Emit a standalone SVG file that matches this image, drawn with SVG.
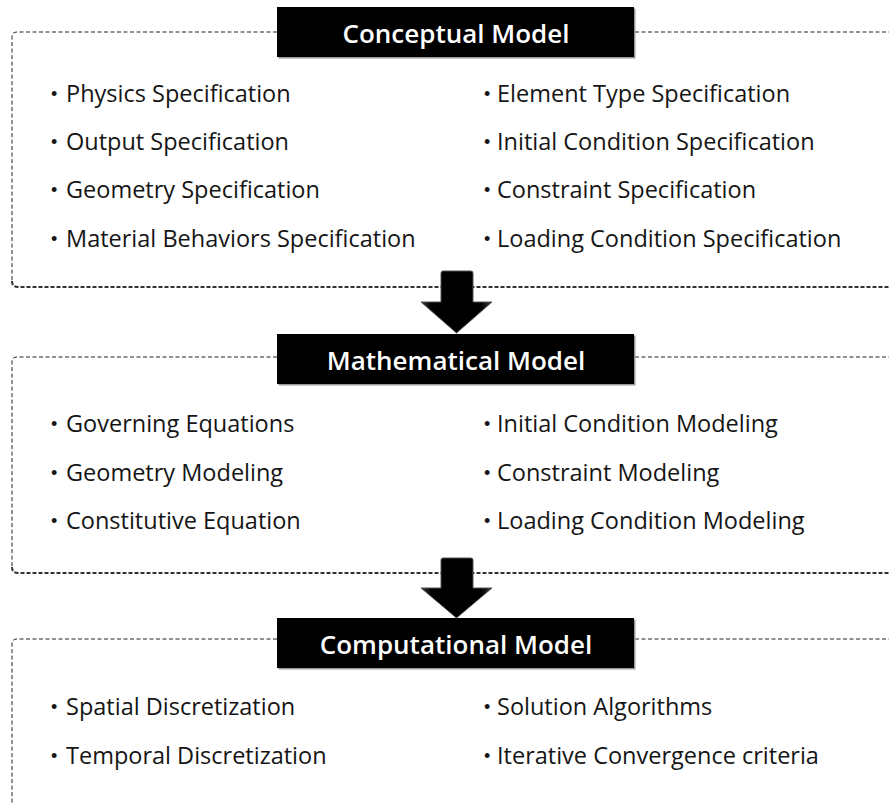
<svg xmlns="http://www.w3.org/2000/svg" width="889" height="805" viewBox="0 0 889 805">
  <defs>
    <style>
      .frame { fill: none; stroke: #222; stroke-width: 1; stroke-dasharray: 4 2.5; }
      .base { fill: none; stroke: #333; stroke-width: 2; stroke-dasharray: 4 2; }
      .title-bg { fill: #000; }
      .title-shadow { fill: #999; }
      .title { font-family: "Open Sans", "Noto Sans", "Liberation Sans", sans-serif; font-weight: 600; font-size: 26px; fill: #fff; text-anchor: middle; }
      .item { font-family: "Open Sans", "Noto Sans", "Liberation Sans", sans-serif; font-size: 23.5px; fill: #151515; }
      .dot { font-family: "Liberation Sans", sans-serif; font-size: 18px; fill: #151515; }
      .arrow { fill: url(#arrowShade); stroke: #555; stroke-width: 1; }
    </style>
    <linearGradient id="arrowShade" x1="0" y1="0" x2="1" y2="0">
      <stop offset="0" stop-color="#3a3a3a"/>
      <stop offset="0.15" stop-color="#000"/>
      <stop offset="0.85" stop-color="#000"/>
      <stop offset="1" stop-color="#3a3a3a"/>
    </linearGradient>
  </defs>

  <!-- Conceptual Model -->
  <g id="conceptual">
    <path class="frame" d="M277,32 H17 Q12,32 12,37 V281"/>
    <path class="frame" d="M635,32 H889"/>
    <path class="base" d="M12,281 Q12,287 18,287 H889"/>
    <rect class="title-shadow" x="278.5" y="8.5" width="357" height="50"/>
    <rect class="title-bg" x="277" y="7" width="357" height="50"/>
    <text class="title" x="456" y="43">Conceptual Model</text>
    <text class="dot" x="51" y="100">•</text><text class="item" x="66" y="102">Physics Specification</text>
    <text class="dot" x="51" y="148">•</text><text class="item" x="66" y="150">Output Specification</text>
    <text class="dot" x="51" y="196">•</text><text class="item" x="66" y="198">Geometry Specification</text>
    <text class="dot" x="51" y="245">•</text><text class="item" x="66" y="247">Material Behaviors Specification</text>
    <text class="dot" x="484" y="100">•</text><text class="item" x="497" y="102">Element Type Specification</text>
    <text class="dot" x="484" y="148">•</text><text class="item" x="497" y="150">Initial Condition Specification</text>
    <text class="dot" x="484" y="196">•</text><text class="item" x="497" y="198">Constraint Specification</text>
    <text class="dot" x="484" y="245">•</text><text class="item" x="497" y="247">Loading Condition Specification</text>
  </g>

  <!-- Mathematical Model -->
  <g id="mathematical">
    <path class="frame" d="M277,357 H17 Q12,357 12,362 V567"/>
    <path class="frame" d="M635,357 H889"/>
    <path class="base" d="M12,567 Q12,573 18,573 H889"/>
    <rect class="title-shadow" x="278.5" y="335.5" width="357" height="50"/>
    <rect class="title-bg" x="277" y="334" width="357" height="50"/>
    <text class="title" x="456" y="370">Mathematical Model</text>
    <text class="dot" x="51" y="430">•</text><text class="item" x="66" y="432">Governing Equations</text>
    <text class="dot" x="51" y="479">•</text><text class="item" x="66" y="481">Geometry Modeling</text>
    <text class="dot" x="51" y="527">•</text><text class="item" x="66" y="529">Constitutive Equation</text>
    <text class="dot" x="484" y="430">•</text><text class="item" x="497" y="432">Initial Condition Modeling</text>
    <text class="dot" x="484" y="479">•</text><text class="item" x="497" y="481">Constraint Modeling</text>
    <text class="dot" x="484" y="527">•</text><text class="item" x="497" y="529">Loading Condition Modeling</text>
  </g>

  <!-- Computational Model -->
  <g id="computational">
    <path class="frame" d="M277,639 H17 Q12,639 12,644 V805"/>
    <path class="frame" d="M635,639 H889"/>
    <rect class="title-shadow" x="278.5" y="619.5" width="357" height="50"/>
    <rect class="title-bg" x="277" y="618" width="357" height="50"/>
    <text class="title" x="456" y="654">Computational Model</text>
    <text class="dot" x="51" y="713">•</text><text class="item" x="66" y="715">Spatial Discretization</text>
    <text class="dot" x="51" y="762">•</text><text class="item" x="66" y="764">Temporal Discretization</text>
    <text class="dot" x="484" y="713">•</text><text class="item" x="497" y="715">Solution Algorithms</text>
    <text class="dot" x="484" y="762">•</text><text class="item" x="497" y="764">Iterative Convergence criteria</text>
  </g>

  <!-- Block arrows between the stages -->
  <g id="connectors">
    <path class="arrow" d="M441,273 Q441,271 443,271 H471 Q473,271 473,273 V302 H492 L456.5,333 L421,302 H441 Z"/>
    <path class="arrow" d="M441,560 Q441,558 443,558 H471 Q473,558 473,560 V588 H492 L456.5,618 L421,588 H441 Z"/>
  </g>
</svg>
